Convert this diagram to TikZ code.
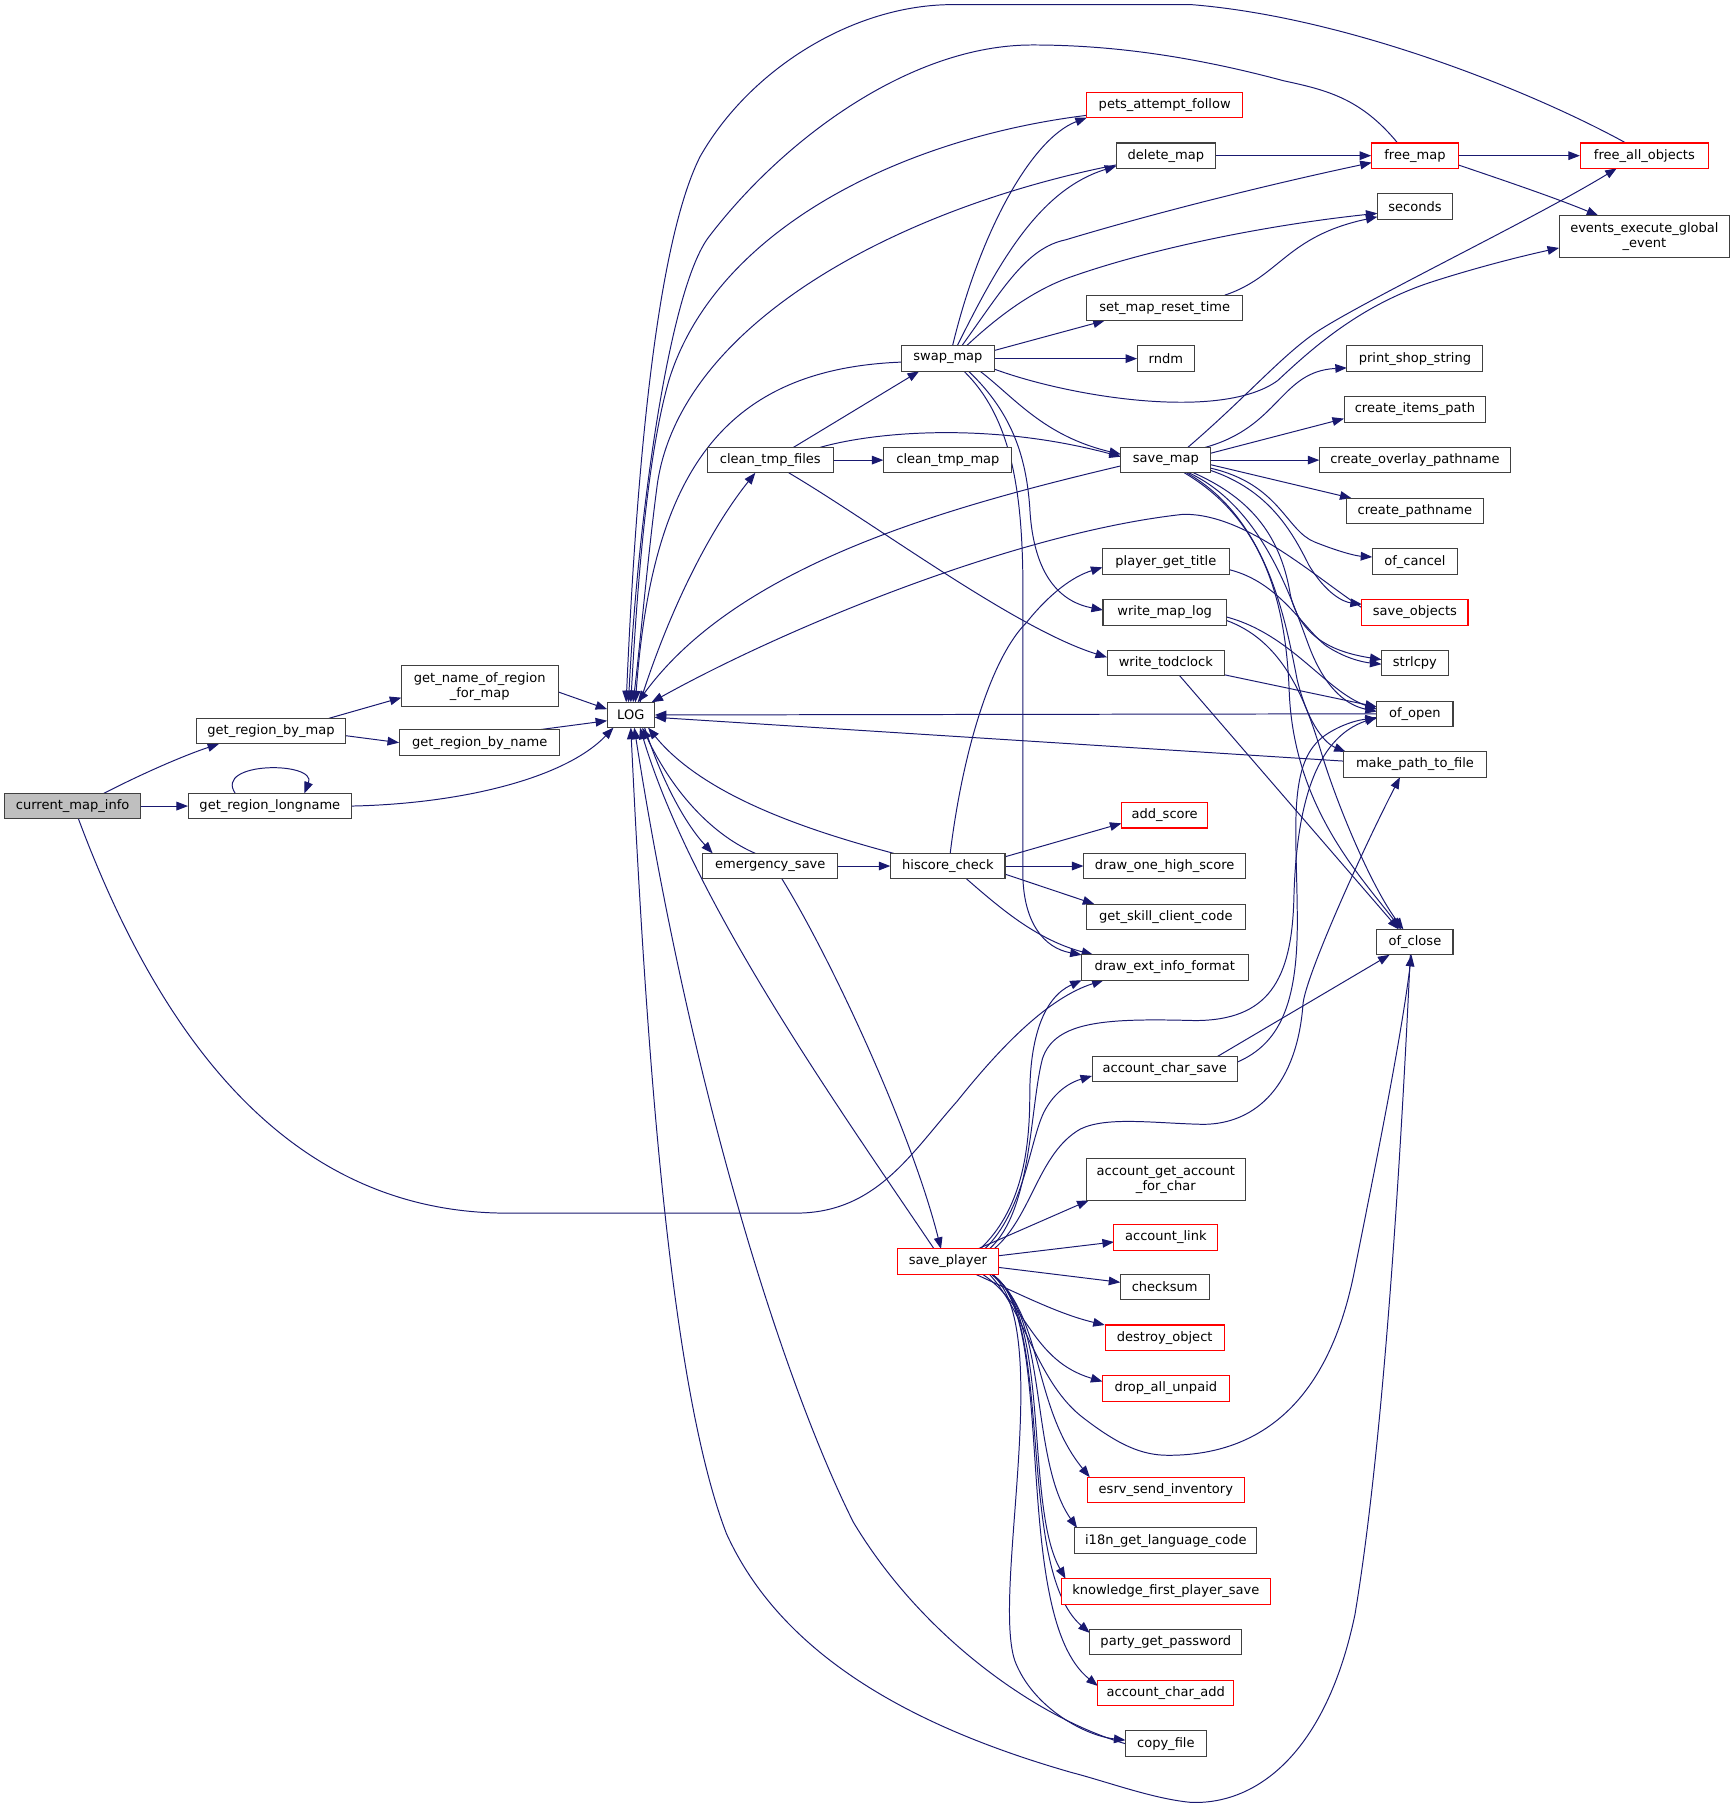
\documentclass[tikz,border=0pt]{standalone}
\usepackage{fontspec}
\setmainfont{DejaVu Sans}
\usetikzlibrary{arrows.meta,calc}
\definecolor{edgec}{HTML}{191970}
\definecolor{boxc}{HTML}{404040}
\definecolor{hlc}{HTML}{FF0000}
\definecolor{rootc}{HTML}{BFBFBF}
\pgfdeclarelayer{bg}
\pgfsetlayers{bg,main}
\begin{document}
\begin{tikzpicture}[x=1pt,y=-1pt,
 fn/.style={draw=boxc, line width=0.9pt, rectangle, inner sep=0pt, minimum height=22pt, fill=white, font=\fontsize{11.3}{13}\selectfont, text=black},
 fn2/.style={fn, minimum height=36pt, align=center},
 hl/.style={draw=hlc},
 root/.style={fill=rootc},
 ed/.style={draw=edgec, line width=0.85pt, -{Triangle[length=10pt,width=7.5pt]}}]
\useasboundingbox (0,0) rectangle (1505,1567);
% nodes
\node[fn,root,minimum width=118pt] (cmi) at (63,699) {current\_map\_info};
\node[fn,minimum width=130pt] (grbm) at (235,634) {get\_region\_by\_map};
\node[fn,minimum width=141pt] (grl) at (234,699) {get\_region\_longname};
\node[fn2,minimum width=136pt] (gnor) at (416,595) {get\_name\_of\_region\\\_for\_map};
\node[fn,minimum width=139pt] (grbn) at (416,644) {get\_region\_by\_name};
\node[fn,minimum width=41pt] (LOG) at (547,620) {LOG};
\node[fn,minimum width=109pt] (ctf) at (668,399) {clean\_tmp\_files};
\node[fn,minimum width=117pt] (es) at (668,751) {emergency\_save};
\node[fn,minimum width=80pt] (swap) at (822,311) {swap\_map};
\node[fn,minimum width=111pt] (ctm) at (822,399) {clean\_tmp\_map};
\node[fn,minimum width=99pt] (hc) at (822,751) {hiscore\_check};
\node[fn,hl,minimum width=87pt] (sp) at (822,1094) {save\_player};
\node[fn,hl,minimum width=135pt] (paf) at (1010,91) {pets\_attempt\_follow};
\node[fn,minimum width=86pt] (dm) at (1011,135) {delete\_map};
\node[fn,minimum width=135pt] (smrt) at (1010,267) {set\_map\_reset\_time};
\node[fn,minimum width=49pt] (rndm) at (1011,311) {rndm};
\node[fn,minimum width=78pt] (sm) at (1011,399) {save\_map};
\node[fn,minimum width=110pt] (pgt) at (1011,487) {player\_get\_title};
\node[fn,minimum width=107pt] (wml) at (1010,531) {write\_map\_log};
\node[fn,minimum width=102pt] (wtc) at (1011,575) {write\_todclock};
\node[fn,hl,minimum width=75pt] (as) at (1010,707) {add\_score};
\node[fn,minimum width=140pt] (dohs) at (1010,751) {draw\_one\_high\_score};
\node[fn,minimum width=138pt] (gscc) at (1011,795) {get\_skill\_client\_code};
\node[fn,minimum width=145pt] (deif) at (1010,839) {draw\_ext\_info\_format};
\node[fn,minimum width=126pt] (acs) at (1010,927) {account\_char\_save};
\node[fn2,minimum width=138pt] (agac) at (1011,1023) {account\_get\_account\\\_for\_char};
\node[fn,hl,minimum width=90pt] (al) at (1011,1073) {account\_link};
\node[fn,minimum width=77pt] (cs) at (1010,1116) {checksum};
\node[fn,hl,minimum width=103pt] (do) at (1010,1160) {destroy\_object};
\node[fn,hl,minimum width=110pt] (dau) at (1011,1204) {drop\_all\_unpaid};
\node[fn,hl,minimum width=136pt] (esi) at (1011,1292) {esrv\_send\_inventory};
\node[fn,minimum width=158pt] (i18n) at (1011,1336) {i18n\_get\_language\_code};
\node[fn,hl,minimum width=181pt] (kfps) at (1011,1380) {knowledge\_first\_player\_save};
\node[fn,minimum width=132pt] (pgp) at (1011,1424) {party\_get\_password};
\node[fn,hl,minimum width=118pt] (aca) at (1011,1468) {account\_char\_add};
\node[fn,minimum width=70pt] (cf) at (1011,1512) {copy\_file};
\node[fn,hl,minimum width=75pt] (fm) at (1227,135) {free\_map};
\node[fn,minimum width=65pt] (sec) at (1227,179) {seconds};
\node[fn,minimum width=118pt] (pss) at (1227,311) {print\_shop\_string};
\node[fn,minimum width=123pt] (cip) at (1227,355) {create\_items\_path};
\node[fn,minimum width=165pt] (cop) at (1227,399) {create\_overlay\_pathname};
\node[fn,minimum width=119pt] (cp) at (1227,443) {create\_pathname};
\node[fn,minimum width=74pt] (oc) at (1227,487) {of\_cancel};
\node[fn,hl,minimum width=92pt] (so) at (1227,531) {save\_objects};
\node[fn,minimum width=58pt] (strl) at (1227,575) {strlcpy};
\node[fn,minimum width=66pt] (oo) at (1227,619) {of\_open};
\node[fn,minimum width=124pt] (mptf) at (1227,663) {make\_path\_to\_file};
\node[fn,minimum width=66pt] (ocl) at (1227,817) {of\_close};
\node[fn,hl,minimum width=111pt] (fao) at (1426,135) {free\_all\_objects};
\node[fn2,minimum width=148pt] (eeg) at (1426,205) {events\_execute\_global\\\_event};
% edges
\begin{pgfonlayer}{bg}
\fill[white] (0,0) rectangle (1505,1567);
% left part
\draw[ed] ($(cmi)+(27,-11)$) .. controls (125,670) and (160,655) .. ($(grbm)+(-45,11)$);
\draw[ed] (cmi.east) -- (grl.west);
\draw[ed] ($(cmi)+(5,11)$) .. controls (150,930) and (270,1052) .. (440,1052) -- (690,1052) .. controls (760,1052) and (790,1000) .. (830,955) .. controls (870,905) and (910,865) .. ($(deif)+(-53,11)$);
\draw[ed] ($(grbm)+(50,-11)$) -- ($(gnor)+(-68,10)$);
\draw[ed] ($(grbm)+(65,4)$) -- (grbn.west);
\draw[ed] ($(grl)+(-30,-11)$) .. controls (185,660) and (275,660) .. ($(grl)+(30,-11)$);
\draw[ed] (grl.east) .. controls (400,697) and (490,675) .. ($(LOG)+(-15,11)$);
\draw[ed] ($(gnor)+(68,5)$) -- ($(LOG)+(-20.5,-5)$);
\draw[ed] ($(grbn)+(50,-11)$) -- ($(LOG)+(-20.5,5)$);
% LOG
\draw[ed] ($(LOG)+(8,-11)$) .. controls (580,530) and (615,460) .. ($(ctf)+(-13,11)$);
\draw[ed] ($(LOG)+(12,11)$) .. controls (575,680) and (595,715) .. ($(es)+(-50,-11)$);
\draw[ed] ($(es)+(-13,-11)$) .. controls (620,725) and (585,690) .. ($(LOG)+(10,11)$);
\draw[ed] ($(hc)+(-47,-11)$) .. controls (700,720) and (610,690) .. ($(LOG)+(15,11)$);
\draw[ed] ($(sp)+(-12,-11)$) .. controls (720,950) and (600,780) .. ($(LOG)+(8,11)$);
\draw[ed] ($(es)+(10,11)$) .. controls (720,830) and (790,980) .. ($(sp)+(-6,-11)$);
\draw[ed] (cf.west) .. controls (900,1490) and (800,1420) .. (740,1320) .. controls (680,1200) and (600,950) .. ($(LOG)+(3,11)$);
\draw[ed] ($(ocl)+(-4,11)$) .. controls (1215,1000) and (1200,1250) .. (1175,1400) .. controls (1150,1520) and (1090,1565) .. (1033,1563) .. controls (1000,1560) and (960,1545) .. (929,1537) .. controls (800,1500) and (680,1440) .. (630,1330) .. controls (580,1200) and (560,900) .. ($(LOG)+(0,11)$);
\draw[ed] (oo.west) -- (LOG.east);
\draw[ed] ($(mptf)+(-62,-3)$) -- ($(LOG)+(20.5,2)$);
\draw[ed] ($(so)+(-46,-4)$) .. controls (1140,500) and (1080,445) .. (1026,446) .. controls (880,462) and (680,545) .. ($(LOG)+(18,-11)$);
\draw[ed] ($(sm)+(-39,5)$) .. controls (820,440) and (640,490) .. ($(LOG)+(6,-11)$);
\draw[ed] ($(swap)+(-40,3)$) .. controls (620,320) and (565,420) .. ($(LOG)+(4,-11)$);
\draw[ed] ($(dm)+(-43,8)$) .. controls (780,180) and (590,280) .. (570,420) .. controls (562,480) and (555,560) .. ($(LOG)+(2,-11)$);
\draw[ed] ($(paf)+(-67.5,9)$) .. controls (780,120) and (620,200) .. (580,330) .. controls (560,400) and (552,520) .. ($(LOG)+(0,-11)$);
\draw[ed] ($(fm)+(-15,-11)$) .. controls (1180,85) and (1150,78) .. (1113,70) .. controls (1020,45) and (950,39) .. (895,39) .. controls (790,39) and (680,120) .. (615,205) .. controls (580,250) and (553,450) .. ($(LOG)+(-2,-11)$);
\draw[ed] ($(fao)+(-16,-11)$) .. controls (1330,80) and (1170,15) .. (1033,4) -- (826,4) .. controls (740,4) and (650,60) .. (607,136) .. controls (565,220) and (550,450) .. ($(LOG)+(-4,-11)$);
% swap_map
\draw[ed] ($(swap)+(4,-11)$) .. controls (850,200) and (895,120) .. ($(paf)+(-67.5,11)$);
\draw[ed] ($(swap)+(8,-11)$) .. controls (865,230) and (900,165) .. ($(dm)+(-43,9)$);
\draw[ed] ($(swap)+(12,-11)$) .. controls (870,250) and (890,215) .. (924,208) .. controls (1000,185) and (1100,160) .. ($(fm)+(-37.5,6)$);
\draw[ed] ($(swap)+(16,-11)$) .. controls (870,270) and (900,250) .. (929,240) .. controls (1000,215) and (1100,195) .. ($(sec)+(-32.5,6)$);
\draw[ed] ($(smrt)+(52,-11)$) .. controls (1110,240) and (1115,205) .. ($(sec)+(-32.5,9)$);
\draw[ed] ($(swap)+(40,-7)$) -- ($(smrt)+(-52,11)$);
\draw[ed] (swap.east) -- (rndm.west);
\draw[ed] ($(swap)+(40,9)$) .. controls (930,345) and (1060,365) .. (1108,330) .. controls (1140,300) and (1180,265) .. (1240,245) .. controls (1280,232) and (1320,222) .. ($(eeg)+(-74,10)$);
\draw[ed] ($(sm)+(19,-11)$) .. controls (1080,345) and (1110,310) .. (1140,289) .. controls (1180,262) and (1330,190) .. ($(fao)+(-24,11)$);
\draw[ed] ($(swap)+(28,11)$) .. controls (880,345) and (905,378) .. ($(sm)+(-39,-5)$);
\draw[ed] ($(ctf)+(43,-11)$) .. controls (760,374) and (860,366) .. ($(sm)+(-39,-3)$);
\draw[ed] ($(ctf)+(20,-11)$) -- ($(swap)+(-25,11)$);
\draw[ed] (ctf.east) -- (ctm.west);
\draw[ed] ($(ctf)+(16,11)$) .. controls (760,455) and (880,545) .. ($(wtc)+(-51,-5)$);
\draw[ed] ($(swap)+(18,11)$) .. controls (880,360) and (890,400) .. (893,440) .. controls (896,500) and (920,522) .. ($(wml)+(-53.5,-2)$);
\draw[ed] ($(swap)+(14,11)$) .. controls (875,360) and (886,420) .. (887,500) -- (887,760) .. controls (888,800) and (905,822) .. ($(deif)+(-72,-11)$);
% free_map, delete_map
\draw[ed] (dm.east) -- (fm.west);
\draw[ed] (fm.east) -- (fao.west);
\draw[ed] ($(fm)+(37.5,8)$) .. controls (1300,155) and (1350,172) .. ($(eeg)+(-40,-18)$);
% save_map
\draw[ed] ($(sm)+(34,-11)$) .. controls (1110,370) and (1110,322) .. ($(pss)+(-59,8)$);
\draw[ed] ($(sm)+(39,-6)$) -- ($(cip)+(-61.5,8)$);
\draw[ed] (sm.east) -- (cop.west);
\draw[ed] ($(sm)+(39,4)$) -- ($(cp)+(-55,-11)$);
\draw[ed] ($(sm)+(39,7)$) .. controls (1110,420) and (1115,460) .. (1140,470) .. controls (1160,478) and (1175,482) .. ($(oc)+(-37,-4)$);
\draw[ed] ($(sm)+(39,9)$) .. controls (1100,425) and (1120,460) .. (1135,490) .. controls (1150,515) and (1165,522) .. ($(so)+(-46,-7)$);
\draw[ed] ($(sm)+(24,11)$) .. controls (1080,430) and (1110,460) .. (1119,516) .. controls (1128,555) and (1160,566) .. ($(strl)+(-29,-3)$);
\draw[ed] ($(pgt)+(55,7)$) .. controls (1110,505) and (1130,545) .. (1150,560) .. controls (1165,570) and (1180,574) .. ($(strl)+(-29,1)$);
\draw[ed] ($(sm)+(20,11)$) .. controls (1095,440) and (1120,520) .. (1135,560) .. controls (1150,600) and (1170,612) .. ($(oo)+(-33,-2)$);
\draw[ed] ($(sm)+(18,11)$) .. controls (1100,450) and (1115,540) .. (1125,590) .. controls (1135,630) and (1150,645) .. ($(mptf)+(-60,-11)$);
\draw[ed] ($(sm)+(16,11)$) .. controls (1095,450) and (1115,520) .. (1118,600) .. controls (1122,700) and (1180,760) .. ($(ocl)+(-12,-11)$);
\draw[ed] ($(wml)+(53.5,4)$) .. controls (1120,550) and (1150,600) .. ($(oo)+(-33,-4)$);
\draw[ed] ($(wml)+(53.5,7)$) .. controls (1110,555) and (1130,600) .. (1145,650) .. controls (1160,700) and (1190,770) .. ($(ocl)+(-10,-11)$);
\draw[ed] ($(wtc)+(50,10)$) -- ($(oo)+(-33,-6)$);
\draw[ed] ($(wtc)+(12,11)$) -- ($(ocl)+(-14,-11)$);
% hiscore_check
\draw[ed] ($(hc)+(2,-11)$) .. controls (835,650) and (860,570) .. (890,540) .. controls (910,515) and (930,500) .. ($(pgt)+(-55,5)$);
\draw[ed] ($(hc)+(49.5,-8)$) -- ($(as)+(-37.5,7)$);
\draw[ed] (hc.east) -- (dohs.west);
\draw[ed] ($(hc)+(49.5,7)$) -- ($(gscc)+(-62,-11)$);
\draw[ed] ($(hc)+(16,11)$) .. controls (870,790) and (900,815) .. ($(deif)+(-62,-11)$);
\draw[ed] (es.east) -- (hc.west);
% save_player
\draw[ed] ($(sp)+(28,-11)$) .. controls (885,1050) and (893,1000) .. (893,950) .. controls (893,900) and (905,865) .. ($(deif)+(-72,11)$);
\draw[ed] ($(sp)+(32,-11)$) .. controls (888,1050) and (893,990) .. (905,965) .. controls (915,945) and (930,938) .. ($(acs)+(-63,6)$);
\draw[ed] ($(sp)+(36,-11)$) .. controls (895,1050) and (893,960) .. (904,918) .. controls (915,885) and (960,883) .. (1036,885) .. controls (1100,885) and (1120,850) .. (1122,780) .. controls (1124,700) and (1140,640) .. ($(oo)+(-33,3)$);
\draw[ed] ($(sp)+(40,-11)$) .. controls (895,1055) and (900,1000) .. (937,979) .. controls (960,968) and (1000,974) .. (1043,975) .. controls (1090,975) and (1125,940) .. (1130,870) .. controls (1133,845) and (1180,740) .. ($(mptf)+(-13,11)$);
\draw[ed] ($(acs)+(63,-6)$) .. controls (1110,905) and (1125,870) .. (1125,800) .. controls (1125,720) and (1115,660) .. (1150,637) .. controls (1165,627) and (1180,624) .. ($(oo)+(-33,4)$);
\draw[ed] ($(acs)+(46,-11)$) -- ($(ocl)+(-22,11)$);
\draw[ed] ($(sp)+(26,-11)$) -- ($(agac)+(-67,18)$);
\draw[ed] ($(sp)+(43.5,-5)$) -- ($(al)+(-45,4)$);
\draw[ed] ($(sp)+(43.5,5)$) -- ($(cs)+(-38.5,-4)$);
\draw[ed] ($(sp)+(24,11)$) .. controls (890,1125) and (920,1140) .. ($(do)+(-52,-11)$);
\draw[ed] ($(sp)+(30,11)$) .. controls (890,1130) and (895,1180) .. ($(dau)+(-55,-6)$);
\draw[ed] ($(sp)+(36,11)$) .. controls (890,1140) and (900,1200) .. (940,1230) .. controls (970,1253) and (990,1262) .. (1013,1262) .. controls (1080,1262) and (1150,1230) .. (1175,1100) .. controls (1195,1000) and (1215,900) .. ($(ocl)+(-3,11)$);
\draw[ed] ($(sp)+(38,11)$) .. controls (905,1140) and (895,1220) .. ($(esi)+(-66,-11)$);
\draw[ed] ($(sp)+(38,11)$) .. controls (910,1140) and (892,1265) .. ($(i18n)+(-77,-11)$);
\draw[ed] ($(sp)+(38,11)$) .. controls (912,1140) and (888,1305) .. ($(kfps)+(-87,-11)$);
\draw[ed] ($(sp)+(38,11)$) .. controls (915,1140) and (880,1360) .. ($(pgp)+(-66,-8)$);
\draw[ed] ($(sp)+(38,11)$) .. controls (918,1140) and (875,1400) .. ($(aca)+(-59,-6)$);
\draw[ed] ($(sp)+(38,11)$) .. controls (915,1150) and (860,1380) .. (880,1440) .. controls (895,1480) and (940,1505) .. ($(cf)+(-35,-3)$);
\end{pgfonlayer}
\end{tikzpicture}
\end{document}
